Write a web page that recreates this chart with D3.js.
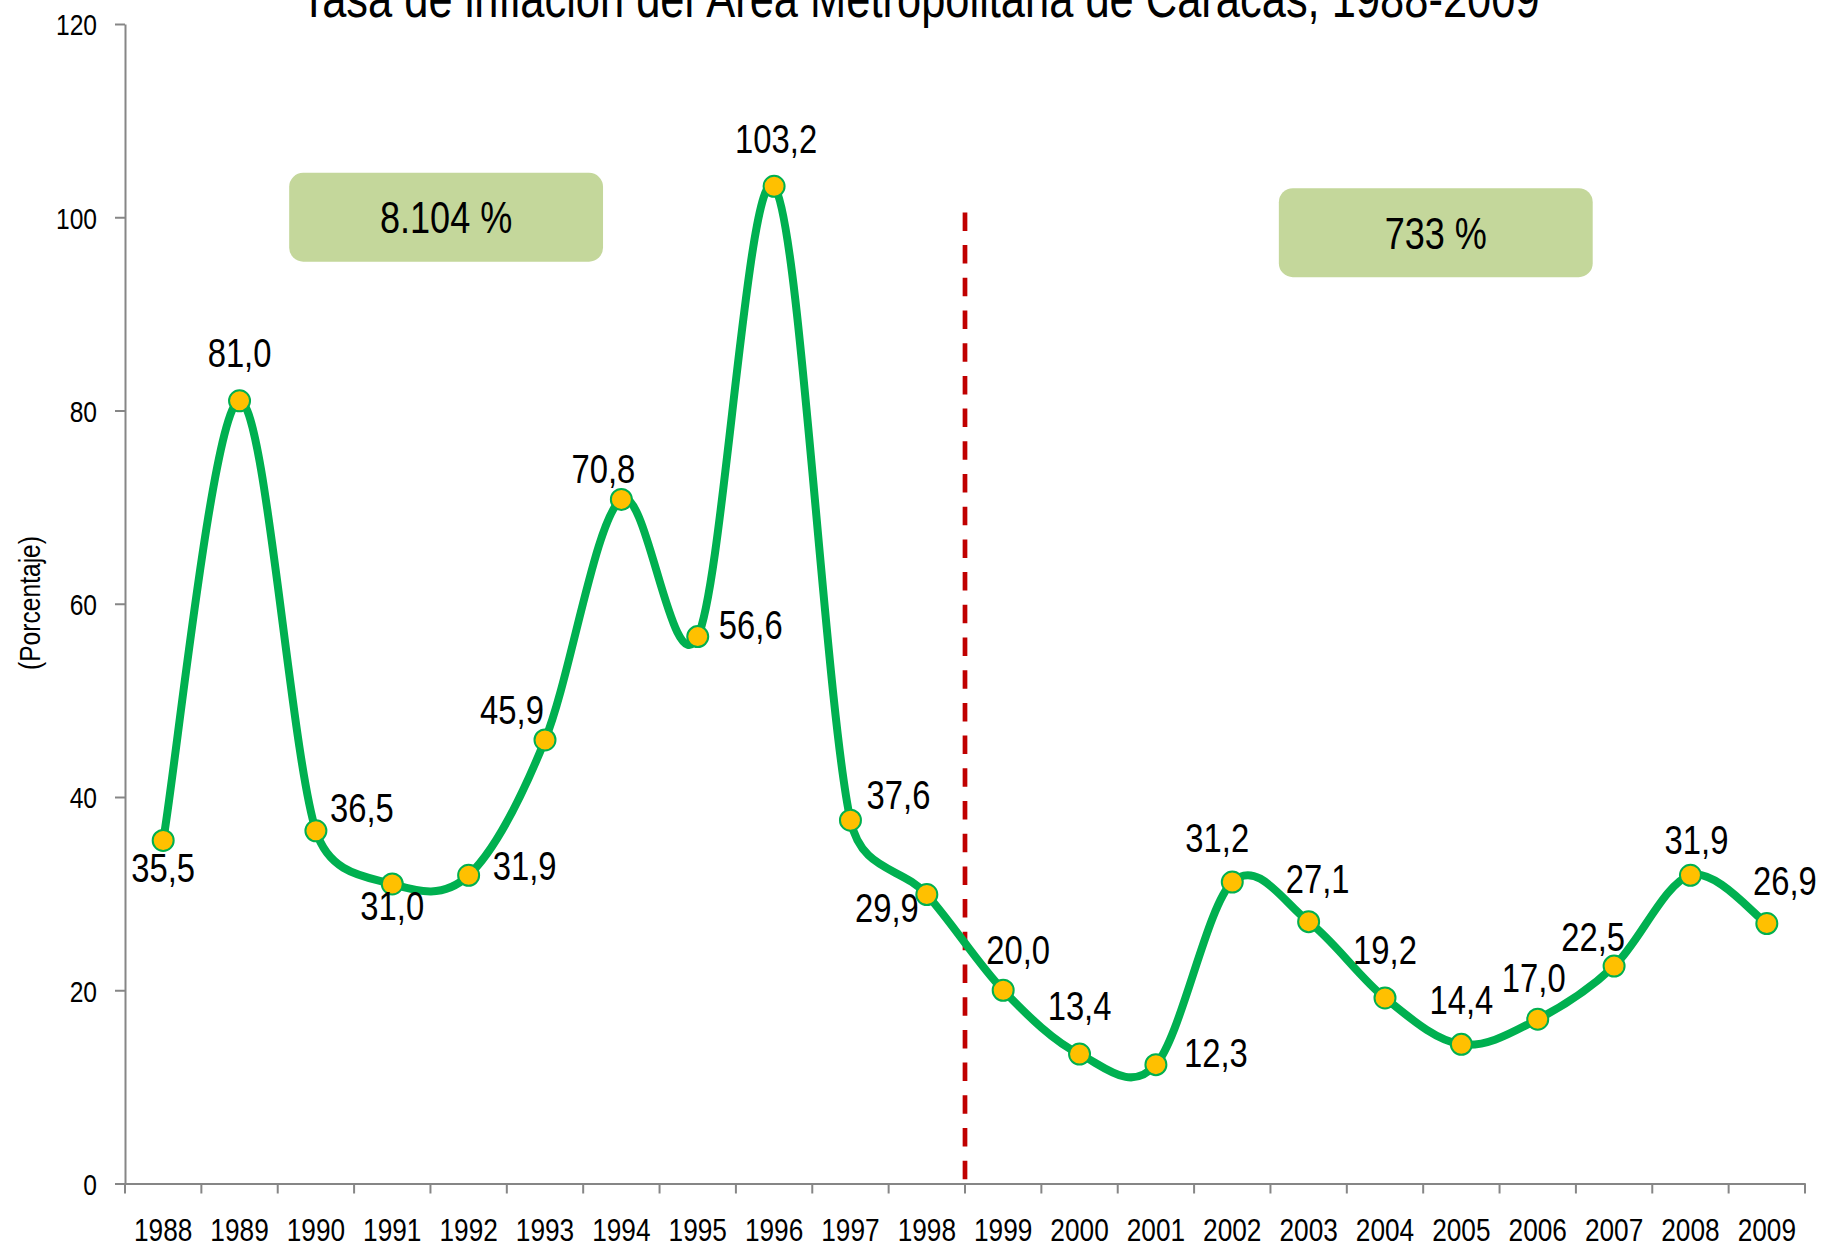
<!DOCTYPE html>
<html>
<head>
<meta charset="utf-8">
<script src="https://cdn.jsdelivr.net/npm/d3@7"></script>
<style>
  html, body { margin: 0; padding: 0; background: #ffffff; }
  svg { display: block; }
  text { font-family: "Liberation Sans", Arial, sans-serif; }
</style>
</head>
<body>
<svg id="chart" width="1835" height="1247"></svg>
<script>
// ---------------- data ----------------
const titleText = "Tasa de inflación del Área Metropolitana de Caracas, 1988-2009";
const yAxisTitle = "(Porcentaje)";
const years = ["1988","1989","1990","1991","1992","1993","1994","1995","1996","1997","1998",
               "1999","2000","2001","2002","2003","2004","2005","2006","2007","2008","2009"];
const inflation = [35.5, 81.0, 36.5, 31.0, 31.9, 45.9, 70.8, 56.6, 103.2, 37.6, 29.9,
                   20.0, 13.4, 12.3, 31.2, 27.1, 19.2, 14.4, 17.0, 22.5, 31.9, 26.9];
const yTicks = [0, 20, 40, 60, 80, 100, 120];
const periodTexts = ["8.104 %", "733 %"];

// ---------------- layout (not data) ----------------
const labelDx = [0, 0, 46, 0, 56, -33, -18, 53, 2, 48, -40, 15, 0, 60, -15, 9, 0, 0, -4, -21, 6, 18];
const labelDy = [42, -34, -9, 36, 5, -16, -16, 2, -33, -11, 27, -26, -34, 2, -30, -29, -34, -30, -27, -15, -21, -29];
// annotation boxes in chart units: [index start, index end, value top, value bottom]
const boxExtents = [[2.15, 6.26, 104.6, 95.4], [15.11, 19.22, 103.0, 93.8]];
const dividerIndex = 11, dividerTop = 100.5;

const NARROW = 0.82;
const plotLeft = 125, plotRight = 1805, plotTop = 24, plotBottom = 1183.5;

const svg = d3.select("#chart");

const x = d3.scaleBand().domain(years).range([plotLeft, plotRight]).padding(0);
const xi = d3.scaleLinear().domain([0, years.length]).range([plotLeft, plotRight]);
const y = d3.scaleLinear().domain([0, 120]).range([plotBottom, plotTop]);

const axisColor = "#868686";

// ---------- title ----------
svg.append("text")
  .attr("transform", `translate(920,17) scale(${NARROW},1)`)
  .attr("text-anchor", "middle")
  .attr("font-size", 53)
  .attr("fill", "#000")
  .text(titleText);

// ---------- y axis title ----------
svg.append("text")
  .attr("transform", `translate(40,603) rotate(-90) scale(${NARROW},1)`)
  .attr("text-anchor", "middle")
  .attr("font-size", 30)
  .attr("fill", "#000")
  .text(yAxisTitle);

// ---------- y axis ----------
const gy = svg.append("g")
  .attr("transform", `translate(${plotLeft},0)`)
  .call(d3.axisLeft(y).tickValues(yTicks).tickSize(10).tickSizeOuter(0).tickFormat(d3.format("d")));
gy.select(".domain").attr("stroke", axisColor).attr("stroke-width", 2);
gy.selectAll(".tick line").attr("stroke", axisColor).attr("stroke-width", 2);
gy.selectAll(".tick text")
  .attr("x", null).attr("dy", "0.36em")
  .attr("transform", `translate(-28,0) scale(${NARROW},1)`)
  .attr("font-size", 30)
  .attr("font-family", "Liberation Sans, Arial, sans-serif")
  .attr("fill", "#000");

// ---------- x axis ----------
const gx = svg.append("g")
  .attr("transform", `translate(0,${plotBottom})`)
  .call(d3.axisBottom(x).tickSize(0).tickSizeOuter(0));
gx.select(".domain").attr("stroke", axisColor).attr("stroke-width", 2);
gx.selectAll(".tick text")
  .attr("y", 58).attr("dy", null)
  .attr("transform", `scale(${NARROW},1)`)
  .attr("font-size", 32)
  .attr("font-family", "Liberation Sans, Arial, sans-serif")
  .attr("fill", "#000");
const boundaries = years.map(d => x(d)).concat([x.range()[1]]);
gx.selectAll(".bound")
  .data(boundaries)
  .join("line")
  .attr("class", "bound")
  .attr("x1", d => d).attr("x2", d => d)
  .attr("y1", 0).attr("y2", 10)
  .attr("stroke", axisColor).attr("stroke-width", 2);

// ---------- divider ----------
svg.append("line")
  .attr("x1", xi(dividerIndex)).attr("x2", xi(dividerIndex))
  .attr("y1", y(dividerTop)).attr("y2", y(0))
  .attr("stroke", "#c00000").attr("stroke-width", 4.7)
  .attr("stroke-dasharray", "18.5,14.2");

// ---------- annotation boxes ----------
const boxes = svg.append("g").selectAll("g")
  .data(periodTexts.map((t, i) => ({ t, e: boxExtents[i] })))
  .join("g");
boxes.append("rect")
  .attr("x", d => xi(d.e[0])).attr("y", d => y(d.e[2]))
  .attr("width", d => xi(d.e[1]) - xi(d.e[0]))
  .attr("height", d => y(d.e[3]) - y(d.e[2]))
  .attr("rx", 14).attr("ry", 14)
  .attr("fill", "#c4d79b");
boxes.append("text")
  .attr("transform", d => `translate(${(xi(d.e[0]) + xi(d.e[1])) / 2},${(y(d.e[2]) + y(d.e[3])) / 2 + 16}) scale(${NARROW},1)`)
  .attr("text-anchor", "middle")
  .attr("font-size", 44)
  .attr("fill", "#000")
  .text(d => d.t);

// ---------- smoothed line (Excel-like: 1/6 tangents, clamped to half a segment) ----------
const pts = years.map((yr, i) => ({ yr, v: inflation[i], i }));
const P = pts.map(d => [x(d.yr) + x.bandwidth() / 2, y(d.v)]);
function smoothPath(p) {
  const path = d3.path();
  const n = p.length;
  const tan = p.map((q, i) => {
    const a = p[Math.max(0, i - 1)], b = p[Math.min(n - 1, i + 1)];
    return [(b[0] - a[0]) / 6, (b[1] - a[1]) / 6];
  });
  const clamp = (t, segLen) => {
    const L = Math.hypot(t[0], t[1]), lim = segLen * 0.5;
    return L > lim ? [t[0] * lim / L, t[1] * lim / L] : t;
  };
  path.moveTo(p[0][0], p[0][1]);
  for (let i = 0; i < n - 1; i++) {
    const a = p[i], b = p[i + 1];
    const seg = Math.hypot(b[0] - a[0], b[1] - a[1]);
    const ta = clamp(tan[i], seg), tb = clamp(tan[i + 1], seg);
    path.bezierCurveTo(a[0] + ta[0], a[1] + ta[1], b[0] - tb[0], b[1] - tb[1], b[0], b[1]);
  }
  return path.toString();
}
svg.append("path")
  .attr("d", smoothPath(P))
  .attr("fill", "none")
  .attr("stroke", "#00b050")
  .attr("stroke-width", 8)
  .attr("stroke-linejoin", "round")
  .attr("stroke-linecap", "round");

// ---------- markers ----------
svg.append("g").selectAll("circle")
  .data(pts)
  .join("circle")
  .attr("cx", d => x(d.yr) + x.bandwidth() / 2)
  .attr("cy", d => y(d.v))
  .attr("r", 10.5)
  .attr("fill", "#ffc000")
  .attr("stroke", "#00b050")
  .attr("stroke-width", 2);

// ---------- data labels ----------
const fmt = v => d3.format(".1f")(v).replace(".", ",");
svg.append("g").selectAll("text")
  .data(pts)
  .join("text")
  .attr("transform", d => `translate(${x(d.yr) + x.bandwidth() / 2 + labelDx[d.i]},${y(d.v) + labelDy[d.i]}) scale(${NARROW},1)`)
  .attr("text-anchor", "middle")
  .attr("font-size", 40)
  .attr("fill", "#000")
  .text(d => fmt(d.v));
</script>
</body>
</html>
